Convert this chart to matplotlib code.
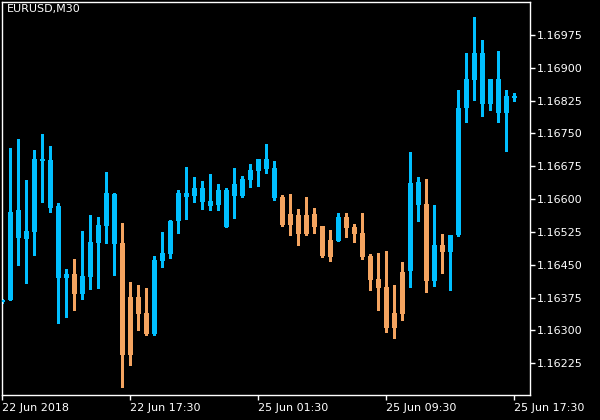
import matplotlib
matplotlib.use("Agg")
import matplotlib.pyplot as plt
import numpy as np

symbol_label = "EURUSD,M30"

opens = [1.16365, 1.16370, 1.16512, 1.16510, 1.16526, 1.16688, 1.16580, 1.16421, 1.16421, 1.16429,
         1.16384, 1.16423, 1.16500, 1.16539, 1.16498, 1.16500, 1.16376, 1.16376, 1.16340, 1.16293,
         1.16459, 1.16475, 1.16551, 1.16606, 1.16608, 1.16594, 1.16585, 1.16587, 1.16537, 1.16608,
         1.16608, 1.16644, 1.16665, 1.16670, 1.16603, 1.16605, 1.16566, 1.16564, 1.16564, 1.16566,
         1.16539, 1.16507, 1.16505, 1.16559, 1.16536, 1.16523, 1.16470, 1.16418, 1.16399, 1.16340,
         1.16434, 1.16437, 1.16587, 1.16589, 1.16414, 1.16495, 1.16480, 1.16518, 1.16809, 1.16873,
         1.16818, 1.16818, 1.16797, 1.16797, 1.16832]
highs = [1.16372, 1.16717, 1.16737, 1.16644, 1.16712, 1.16749, 1.16721, 1.16591, 1.16440, 1.16463,
         1.16527, 1.16564, 1.16559, 1.16662, 1.16614, 1.16546, 1.16411, 1.16404, 1.16397, 1.16470,
         1.16525, 1.16552, 1.16621, 1.16673, 1.16651, 1.16641, 1.16657, 1.16635, 1.16625, 1.16671,
         1.16653, 1.16680, 1.16692, 1.16726, 1.16687, 1.16609, 1.16612, 1.16577, 1.16605, 1.16580,
         1.16539, 1.16530, 1.16568, 1.16568, 1.16543, 1.16568, 1.16475, 1.16477, 1.16482, 1.16404,
         1.16456, 1.16708, 1.16651, 1.16646, 1.16587, 1.16520, 1.16518, 1.16849, 1.16934, 1.17016,
         1.16964, 1.16874, 1.16938, 1.16849, 1.16842]
lows = [1.16363, 1.16370, 1.16450, 1.16409, 1.16473, 1.16594, 1.16571, 1.16318, 1.16331, 1.16347,
        1.16373, 1.16395, 1.16398, 1.16500, 1.16427, 1.16172, 1.16220, 1.16302, 1.16290, 1.16290,
        1.16446, 1.16466, 1.16523, 1.16555, 1.16594, 1.16578, 1.16576, 1.16576, 1.16537, 1.16558,
        1.16606, 1.16628, 1.16631, 1.16660, 1.16599, 1.16539, 1.16517, 1.16496, 1.16517, 1.16523,
        1.16468, 1.16459, 1.16505, 1.16514, 1.16503, 1.16464, 1.16393, 1.16347, 1.16297, 1.16283,
        1.16325, 1.16400, 1.16551, 1.16389, 1.16402, 1.16432, 1.16393, 1.16516, 1.16777, 1.16827,
        1.16791, 1.16804, 1.16777, 1.16711, 1.16825]
closes = [1.16370, 1.16571, 1.16575, 1.16527, 1.16692, 1.16692, 1.16689, 1.16584, 1.16429, 1.16384,
          1.16424, 1.16502, 1.16541, 1.16614, 1.16612, 1.16245, 1.16245, 1.16338, 1.16293, 1.16461,
          1.16477, 1.16550, 1.16614, 1.16614, 1.16625, 1.16625, 1.16596, 1.16621, 1.16621, 1.16635,
          1.16646, 1.16667, 1.16692, 1.16692, 1.16671, 1.16542, 1.16542, 1.16521, 1.16521, 1.16537,
          1.16471, 1.16468, 1.16559, 1.16535, 1.16521, 1.16468, 1.16416, 1.16398, 1.16306, 1.16306,
          1.16338, 1.16637, 1.16639, 1.16414, 1.16495, 1.16480, 1.16518, 1.16808, 1.16874, 1.16934,
          1.16934, 1.16874, 1.16874, 1.16836, 1.16836]

price_ticks = [1.16225, 1.16300, 1.16375, 1.16450, 1.16525, 1.16600, 1.16675, 1.16750, 1.16825, 1.16900, 1.16975]
time_tick_bars = [0, 16, 32, 48, 64]
time_tick_labels = ["22 Jun 2018", "22 Jun 17:30", "25 Jun 01:30", "25 Jun 09:30", "25 Jun 17:30"]

BULL = "#00BFFF"
BEAR = "#F4A460"

W, H = 600, 420
fig = plt.figure(figsize=(W / 100, H / 100), dpi=100, facecolor="black")
ax = fig.add_axes([2 / W, 1 - 395 / H, 528 / W, 393 / H], facecolor="black")

o = np.array(opens); h = np.array(highs); l = np.array(lows); c = np.array(closes)
x = np.arange(len(o))
cols = [BULL if cc >= oo else BEAR for oo, cc in zip(o, c)]

ax.vlines(x, l, h, colors=cols, linewidth=1.0, antialiased=False, zorder=2)
bottoms = np.minimum(o, c)
heights = np.maximum(np.abs(c - o), 0.00003)
ax.bar(x, heights, bottom=bottoms, width=0.625, color=cols, edgecolor="none",
       linewidth=0, antialiased=False, zorder=3)

ax.set_xlim(-0.05, 65.95)
ax.set_ylim(1.161526, 1.170504)

for s in ax.spines.values():
    s.set_color("white")
    s.set_linewidth(1.0)

ax.yaxis.tick_right()
ax.set_yticks(price_ticks)
ax.set_yticklabels([f"{p:.5f}" for p in price_ticks])
ax.set_xticks(time_tick_bars)
ax.set_xticklabels(time_tick_labels, ha="left")
ax.tick_params(axis="both", colors="white", labelsize=8, length=3.5, width=1.0,
               direction="out")
ax.tick_params(axis="y", pad=1.5)
ax.tick_params(axis="x", pad=2)
for lab in ax.get_xticklabels():
    lab.set_horizontalalignment("left")

ax.text(5 / 528, 1 - 2 / 393, symbol_label, transform=ax.transAxes, color="white",
        fontsize=8, ha="left", va="top")

fig.savefig("out.png", dpi=100, facecolor="black")
